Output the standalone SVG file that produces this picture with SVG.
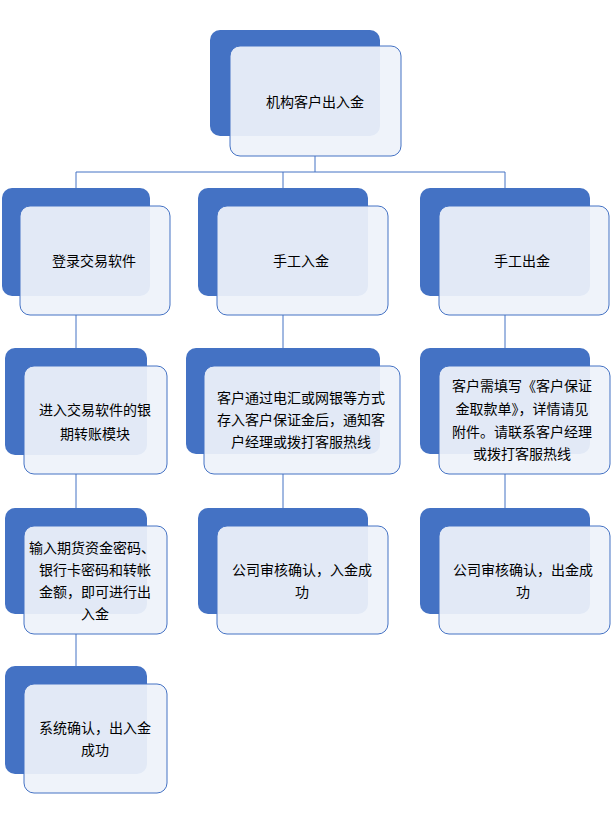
<svg xmlns="http://www.w3.org/2000/svg" width="612" height="821" viewBox="0 0 612 821">
<style>
.b{fill:#4472c4}
.f{fill:#eef2fa;fill-opacity:0.93;stroke:#4472c4;stroke-width:1}
.t{font-family:"Liberation Sans","Noto Sans CJK SC",sans-serif;font-size:14px;fill:#000;text-anchor:middle}
.c{stroke:#4472c4;stroke-width:1;fill:none}
</style>
<rect width="612" height="821" fill="#fff"/>
<g id="connectors">
<path class="c" d="M315 156V172M76 172H505M76 172V206M283 172V206M505 172V206"/>
<path class="c" d="M76 315V366M283 315V366M505 315V366M76 474V526M283 474V526M505 474V526M76 634V684"/>
</g>
<g id="n0"><rect class="b" x="210" y="30" width="170" height="106" rx="10"/><rect class="f" x="230" y="46" width="171" height="110" rx="10"/><text class="t" x="315" y="107">机构客户出入金</text></g>
<g id="n1"><rect class="b" x="2" y="188" width="148" height="108" rx="10"/><rect class="f" x="20" y="206" width="150" height="109" rx="10"/><text class="t" x="94" y="266">登录交易软件</text></g>
<g id="n2"><rect class="b" x="198" y="188" width="170" height="108" rx="10"/><rect class="f" x="217" y="206" width="171" height="109" rx="10"/><text class="t" x="301" y="266">手工入金</text></g>
<g id="n3"><rect class="b" x="420" y="188" width="170" height="108" rx="10"/><rect class="f" x="439" y="206" width="170" height="109" rx="10"/><text class="t" x="522" y="266">手工出金</text></g>
<g id="n4"><rect class="b" x="5" y="348" width="142" height="107" rx="10"/><rect class="f" x="24" y="366" width="143" height="108" rx="10"/><text class="t" x="95" y="415">进入交易软件的银</text><text class="t" x="95" y="439">期转账模块</text></g>
<g id="n5"><rect class="b" x="186" y="348" width="194" height="106" rx="10"/><rect class="f" x="204" y="366" width="196" height="108" rx="10"/><text class="t" x="301" y="403">客户通过电汇或网银等方式</text><text class="t" x="301" y="425">存入客户保证金后，通知客</text><text class="t" x="301" y="447">户经理或拨打客服热线</text></g>
<g id="n6"><rect class="b" x="420" y="348" width="170" height="106" rx="10"/><rect class="f" x="439" y="366" width="171" height="108" rx="10"/><text class="t" x="522" y="391">客户需填写《客户保证</text><text class="t" x="522" y="414">金取款单》，详情请见</text><text class="t" x="522" y="437">附件。请联系客户经理</text><text class="t" x="522" y="459">或拨打客服热线</text></g>
<g id="n7"><rect class="b" x="5" y="508" width="142" height="106" rx="10"/><rect class="f" x="24" y="526" width="143" height="108" rx="10"/><text class="t" x="92" y="553">输入期货资金密码、</text><text class="t" x="95" y="575">银行卡密码和转帐</text><text class="t" x="95" y="597">金额，即可进行出</text><text class="t" x="95" y="619">入金</text></g>
<g id="n8"><rect class="b" x="198" y="508" width="170" height="106" rx="10"/><rect class="f" x="217" y="526" width="171" height="108" rx="10"/><text class="t" x="302" y="575">公司审核确认，入金成</text><text class="t" x="302" y="597">功</text></g>
<g id="n9"><rect class="b" x="420" y="508" width="170" height="106" rx="10"/><rect class="f" x="439" y="526" width="171" height="108" rx="10"/><text class="t" x="523" y="575">公司审核确认，出金成</text><text class="t" x="523" y="597">功</text></g>
<g id="n10"><rect class="b" x="5" y="666" width="142" height="108" rx="10"/><rect class="f" x="24" y="684" width="143" height="109" rx="10"/><text class="t" x="95" y="733">系统确认，出入金</text><text class="t" x="95" y="755">成功</text></g>
</svg>
